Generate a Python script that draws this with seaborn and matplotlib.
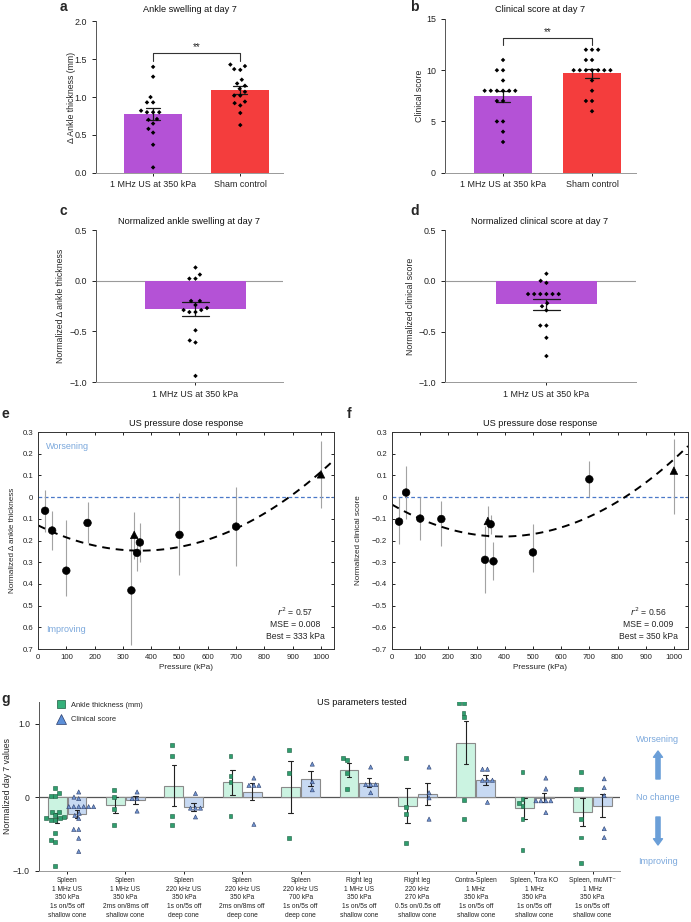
import matplotlib
matplotlib.use("Agg")
import matplotlib.pyplot as plt
from matplotlib.lines import Line2D
import seaborn as sns
import pandas as pd

# ---------------- data ----------------
# panels a-d
groups = ['1 MHz US at 350 kPa', 'Sham control']
ankle_us = [1.40, 1.27, 1.00, 0.93, 0.93, 0.82, 0.80, 0.80, 0.80, 0.71, 0.70, 0.65, 0.58, 0.53, 0.37, 0.07]
ankle_sham = [1.43, 1.41, 1.37, 1.36, 1.23, 1.18, 1.15, 1.11, 1.07, 1.02, 1.02, 0.94, 0.92, 0.89, 0.79, 0.63]
score_us = [11, 10, 10, 9, 8, 8, 8, 8, 8, 8, 7, 7, 5, 5, 4, 3]
score_sham = [12, 12, 12, 11, 11, 10, 10, 10, 10, 10, 10, 10, 9, 8, 7, 7, 6]
norm_ankle_us = [0.13, 0.06, 0.02, 0.02, -0.20, -0.20, -0.24, -0.27, -0.29, -0.29, -0.31, -0.31, -0.49, -0.59, -0.61, -0.94]
norm_score_us = [0.07, 0.0, -0.02, -0.13, -0.13, -0.13, -0.13, -0.13, -0.13, -0.22, -0.25, -0.29, -0.44, -0.44, -0.56, -0.74]

# panels e/f : pressure dose response
pressure = [25, 50, 100, 175, 330, 340, 350, 360, 500, 700, 1000]
marker_kind = ['circle', 'circle', 'circle', 'circle', 'circle', 'triangle',
               'circle', 'circle', 'circle', 'circle', 'triangle']
e_mean = [-0.063, -0.154, -0.339, -0.119, -0.43, -0.174, -0.257, -0.209, -0.174, -0.136, 0.105]
e_top = [0.035, -0.064, -0.105, -0.024, -0.175, -0.069, -0.18, -0.118, 0.02, 0.046, 0.257]
e_bot = [-0.163, -0.246, -0.457, -0.212, -0.68, -0.286, -0.34, -0.30, -0.357, -0.316, -0.052]
f_mean = [-0.113, 0.021, -0.099, -0.101, -0.289, -0.11, -0.125, -0.296, -0.255, 0.082, 0.122]
f_top = [0.0, 0.144, 0.0, -0.017, -0.131, -0.04, -0.082, -0.206, -0.124, 0.165, 0.27]
f_bot = [-0.215, -0.10, -0.197, -0.224, -0.444, -0.185, -0.17, -0.383, -0.345, 0.0, -0.076]
ef_yticks = [0.3, 0.2, 0.1, 0, -0.1, -0.2, -0.3, -0.4, -0.5, -0.6, -0.7]
e_yticklabels = ['0.3', '0.2', '0.1', '0', '0.1', '0.2', '0.3', '0.4', '0.5', '0.6', '0.7']
f_yticklabels = ['0.3', '0.2', '0.1', '0', '\u22120.1', '\u22120.2', '\u22120.3', '\u22120.4',
                 '\u22120.5', '\u22120.6', '\u22120.7']
e_stats = '$r^2$ = 0.57\nMSE = 0.008\nBest = 333 kPa'
f_stats = '$r^2$ = 0.56\nMSE = 0.009\nBest = 350 kPa'

# panel g : US parameters tested
conditions = [
    'Spleen\n1 MHz US\n350 kPa\n1s on/5s off\nshallow cone',
    'Spleen\n1 MHz US\n350 kPa\n2ms on/8ms off\nshallow cone',
    'Spleen\n220 kHz US\n350 kPa\n1s on/5s off\ndeep cone',
    'Spleen\n220 kHz US\n350 kPa\n2ms on/8ms off\ndeep cone',
    'Spleen\n220 kHz US\n700 kPa\n1s on/5s off\ndeep cone',
    'Right leg\n1 MHz US\n350 kPa\n1s on/5s off\nshallow cone',
    'Right leg\n220 kHz\n270 kPa\n0.5s on/0.5s off\nshallow cone',
    'Contra-Spleen\n1 MHz\n350 kPa\n1s on/5s off\nshallow cone',
    'Spleen, Tcra KO\n1 MHz\n350 kPa\n1s on/5s off\nshallow cone',
    'Spleen, muMT\u207b\n1 MHz\n350 kPa\n1s on/5s off\nshallow cone',
]
g_ankle = [
    norm_ankle_us,
    [0.10, 0.0, -0.16, -0.38],
    [0.71, 0.56, -0.26, -0.38],
    [0.56, 0.29, 0.21, -0.26],
    [0.64, 0.33, -0.56],
    [0.53, 0.50, 0.33, 0.11],
    [0.53, -0.14, -0.23, -0.62],
    [1.28, 1.28, 1.15, 1.09, -0.04, -0.30],
    [0.34, -0.02, -0.08, -0.12, -0.30, -0.72],
    [0.34, 0.11, 0.11, -0.30, -0.55, -0.90],
]
g_score = [
    norm_score_us,
    [0.07, -0.02, -0.02, -0.19],
    [0.05, -0.15, -0.15, -0.15, -0.27],
    [0.26, 0.16, 0.16, 0.16, -0.37],
    [0.45, 0.21, 0.10],
    [0.41, 0.17, 0.17, 0.17, 0.06],
    [0.41, 0.06, -0.01, -0.30],
    [0.38, 0.38, 0.23, 0.23, 0.23, -0.07],
    [0.26, 0.11, -0.05, -0.05, -0.05, -0.05, -0.21],
    [0.25, 0.13, 0.02, -0.43, -0.55],
]
measures = ['Ankle thickness (mm)', 'Clinical score']

# ---------------- style ----------------
PURPLE, RED = '#b452d6', '#f43d3d'
MINT, LIGHTBLUE = '#cbf3e1', '#c7d9f2'
GREEN, BLUE = '#2f9e6e', '#7094d0'
TXTBLUE = '#7ba8dc'

sns.set_style('ticks')
plt.rcParams['font.family'] = ['Liberation Sans', 'DejaVu Sans']
plt.rcParams.update({'axes.linewidth': 0.7, 'xtick.major.width': 0.7, 'ytick.major.width': 0.7,
                     'xtick.major.size': 3, 'ytick.major.size': 3})

W, H = 691, 922
fig = plt.figure(figsize=(W / 100, H / 100), dpi=100)


def add_ax(l, t, r, b):
    return fig.add_axes([l / W, 1 - b / H, (r - l) / W, (b - t) / H])


def ftext(x, y, s, **kw):
    fig.text(x / W, 1 - y / H, s, **kw)


def bar_panel(ax, df, colors, width, capsize):
    sns.barplot(data=df, x='group', y='value', hue='group', palette=colors, legend=False,
                errorbar='se', capsize=capsize, width=width, saturation=1, linewidth=0,
                err_kws={'color': '#1a1a1a', 'linewidth': 0.9}, ax=ax)
    sns.swarmplot(data=df, x='group', y='value', color='black', marker='D', size=2.3,
                  linewidth=1.9, edgecolor='none', ax=ax, zorder=3)
    sns.despine(ax=ax)
    ax.spines['left'].set_color('#555555')
    ax.spines['bottom'].set_color('#999999')
    ax.set_xlabel('')
    ax.tick_params(labelsize=6.4, colors='#222222')
    ax.tick_params(axis='x', length=2)


# ---------------- panel a ----------------
ax_a = add_ax(96, 21.5, 283, 172.7)
df_a = pd.DataFrame({'group': [groups[0]] * len(ankle_us) + [groups[1]] * len(ankle_sham),
                     'value': ankle_us + ankle_sham})
bar_panel(ax_a, df_a, [PURPLE, RED], 0.67, 0.16)
ax_a.set_ylim(0, 2.0)
ax_a.set_xlim(-0.655, 1.49)
ax_a.set_yticks([0, 0.5, 1.0, 1.5, 2.0])
ax_a.set_yticklabels(['0.0', '0.5', '1.0', '1.5', '2.0'])
ax_a.set_ylabel('\u0394 Ankle thickness (mm)', fontsize=6.3)
ax_a.yaxis.set_label_coords(-0.107, 0.5)
ax_a.plot([0, 0, 1, 1], [1.48, 1.58, 1.58, 1.48], color='#333333', lw=0.8)
ax_a.text(0.5, 1.60, '**', ha='center', va='bottom', fontsize=7)

# ---------------- panel b ----------------
ax_b = add_ax(445, 19, 636, 172.7)
df_b = pd.DataFrame({'group': [groups[0]] * len(score_us) + [groups[1]] * len(score_sham),
                     'value': score_us + score_sham})
bar_panel(ax_b, df_b, [PURPLE, RED], 0.66, 0.157)
ax_b.set_ylim(0, 15)
ax_b.set_xlim(-0.652, 1.494)
ax_b.set_yticks([0, 5, 10, 15])
ax_b.set_ylabel('Clinical score', fontsize=6.3)
ax_b.yaxis.set_label_coords(-0.110, 0.5)
ax_b.plot([0, 0, 1, 1], [12.45, 13.1, 13.1, 12.45], color='#333333', lw=0.8)
ax_b.text(0.5, 13.2, '**', ha='center', va='bottom', fontsize=7)

# ---------------- panel c ----------------
ax_c = add_ax(96, 230, 283, 382)
df_c = pd.DataFrame({'group': [groups[0]] * len(norm_ankle_us), 'value': norm_ankle_us})
ax_c.axhline(0, color='#9a9a9a', lw=0.8, zorder=0)
bar_panel(ax_c, df_c, [PURPLE], 0.54, 0.14)
ax_c.set_ylim(-1.0, 0.5)
ax_c.set_xlim(-0.532, 0.468)
ax_c.set_yticks([-1.0, -0.5, 0.0, 0.5])
ax_c.set_ylabel('Normalized \u0394 ankle thickness', fontsize=6.3)
ax_c.yaxis.set_label_coords(-0.166, 0.5)

# ---------------- panel d ----------------
ax_d = add_ax(445, 230, 636, 382.5)
df_d = pd.DataFrame({'group': [groups[0]] * len(norm_score_us), 'value': norm_score_us})
ax_d.axhline(0, color='#9a9a9a', lw=0.8, zorder=0)
bar_panel(ax_d, df_d, [PURPLE], 0.53, 0.14)
ax_d.set_ylim(-1.0, 0.5)
ax_d.set_xlim(-0.531, 0.469)
ax_d.set_yticks([-1.0, -0.5, 0.0, 0.5])
ax_d.set_ylabel('Normalized clinical score', fontsize=6.3)
ax_d.yaxis.set_label_coords(-0.157, 0.5)


# ---------------- panels e / f ----------------
def dose_panel(ax, mean, top, bot, xmax, ylab, ylab_x, ticklabels, stats, stats_x):
    df = pd.DataFrame({'pressure': pressure, 'value': mean, 'top': top, 'bot': bot,
                       'kind': marker_kind})
    ax.set_xlim(0, xmax)
    ax.set_ylim(-0.7, 0.3)
    ax.axhline(0, color='#4a78c8', lw=0.9, ls=(0, (3, 2)), zorder=1)
    ax.errorbar(df['pressure'], df['value'],
                yerr=[df['value'] - df['bot'], df['top'] - df['value']],
                fmt='none', ecolor='#a3a3a3', elinewidth=0.8, zorder=2)
    sns.regplot(data=df, x='pressure', y='value', order=2, scatter=False, ci=None,
                truncate=False, line_kws={'color': 'black', 'lw': 1.4, 'ls': (0, (4, 3))}, ax=ax)
    sns.scatterplot(data=df, x='pressure', y='value', style='kind',
                    markers={'circle': 'o', 'triangle': '^'}, color='black', s=30,
                    edgecolor='black', legend=False, ax=ax, zorder=4)
    ax.set_xlim(0, xmax)
    ax.set_ylim(-0.7, 0.3)
    ax.set_xticks(range(0, 1001, 100))
    ax.set_yticks(ef_yticks)
    ax.set_yticklabels(ticklabels)
    ax.tick_params(direction='in', top=True, right=True, labelsize=5.6, length=2.5,
                   colors='#222222')
    for s in ax.spines.values():
        s.set_color('#333333')
    ax.set_xlabel('Pressure (kPa)', fontsize=5.9, labelpad=2)
    ax.set_ylabel(ylab, fontsize=5.9)
    ax.yaxis.set_label_coords(ylab_x, 0.5)
    ax.text(stats_x, 0.12, stats, transform=ax.transAxes, ha='center', va='center',
            multialignment='center', fontsize=6.2, linespacing=1.35)


ax_e = add_ax(38, 432, 334, 649)
dose_panel(ax_e, e_mean, e_top, e_bot, 1046, 'Normalized \u0394 ankle thickness', -0.074,
           e_yticklabels, e_stats, 0.868)
ax_e.text(0.027, 0.935, 'Worsening', transform=ax_e.transAxes, color=TXTBLUE, fontsize=6.5,
          va='center')
ax_e.text(0.027, 0.088, 'Improving', transform=ax_e.transAxes, color=TXTBLUE, fontsize=6.5,
          va='center')

ax_f = add_ax(392, 432, 688, 649)
dose_panel(ax_f, f_mean, f_top, f_bot, 1050, 'Normalized clinical score', -0.101,
           f_yticklabels, f_stats, 0.865)

# ---------------- panel g ----------------
ax_g = add_ax(39, 701.7, 620, 870.5)
rows = []
for cond, av, sv in zip(conditions, g_ankle, g_score):
    rows += [(cond, measures[0], v) for v in av]
    rows += [(cond, measures[1], v) for v in sv]
df_g = pd.DataFrame(rows, columns=['cond', 'measure', 'value'])

ax_g.axhline(0, color='#555555', lw=0.9, zorder=0)
sns.barplot(data=df_g, x='cond', y='value', hue='measure', order=conditions,
            hue_order=measures, palette=[MINT, LIGHTBLUE], errorbar='se', capsize=0.16,
            width=0.68, gap=0.05, saturation=1, edgecolor='#8a8a8a', linewidth=0.8,
            err_kws={'color': '#222222', 'linewidth': 0.8}, legend=False, ax=ax_g)
sns.swarmplot(data=df_g[df_g['measure'] == measures[0]], x='cond', y='value', hue='measure',
              order=conditions, hue_order=measures, palette=[GREEN, BLUE], dodge=True,
              marker='s', size=2.8, linewidth=0.4, edgecolor='#1d5c40', legend=False,
              ax=ax_g, zorder=4)
sns.swarmplot(data=df_g[df_g['measure'] == measures[1]], x='cond', y='value', hue='measure',
              order=conditions, hue_order=measures, palette=[GREEN, BLUE], dodge=True,
              marker='^', size=3.0, linewidth=0.4, edgecolor='#2c3e6b', legend=False,
              ax=ax_g, zorder=4)
sns.despine(ax=ax_g)
ax_g.spines['left'].set_color('#555555')
ax_g.spines['bottom'].set_color('#999999')
ax_g.set_ylim(-1.0, 1.3)
ax_g.set_xlim(-0.48, 9.47)
ax_g.set_yticks([-1.0, 0, 1.0])
ax_g.set_yticklabels(['\u22121.0', '0', '1.0'])
ax_g.set_xticks(range(len(conditions)))
ax_g.set_xticklabels(conditions, fontsize=4.8, linespacing=1.35)
ax_g.tick_params(axis='y', labelsize=6.2, colors='#222222')
ax_g.tick_params(axis='x', length=2.5, pad=2, colors='#222222')
ax_g.set_xlabel('')
ax_g.set_ylabel('Normalized day 7 values', fontsize=6.3)
ax_g.yaxis.set_label_coords(-0.046, 0.5)
handles = [Line2D([], [], marker='s', ls='', markersize=6, markerfacecolor='#35b07a',
                  markeredgecolor='#1d5c40', markeredgewidth=0.5),
           Line2D([], [], marker='^', ls='', markersize=6.5, markerfacecolor='#5c8fd8',
                  markeredgecolor='#2c3e6b', markeredgewidth=0.5)]
ax_g.legend(handles, measures, loc='upper left', bbox_to_anchor=(0.02, 1.02), frameon=False,
            fontsize=5.4, handletextpad=0.3, labelspacing=1.0, borderaxespad=0)

# right-hand annotations of g
ftext(658, 740, 'Worsening', color=TXTBLUE, fontsize=6.5, ha='center', va='center')
ftext(658, 798, 'No change', color=TXTBLUE, fontsize=6.5, ha='center', va='center')
ftext(658, 861, 'Improving', color=TXTBLUE, fontsize=6.5, ha='center', va='center')
arrow_kw = dict(arrowstyle='simple,head_width=0.65,head_length=0.45,tail_width=0.3',
                color='#6b9fd8', mutation_scale=10, shrinkA=0, shrinkB=0)
ax_g.annotate('', xy=(658, H - 751), xytext=(658, H - 779), xycoords='figure pixels',
              textcoords='figure pixels', arrowprops=arrow_kw, annotation_clip=False)
ax_g.annotate('', xy=(658, H - 845), xytext=(658, H - 817), xycoords='figure pixels',
              textcoords='figure pixels', arrowprops=arrow_kw, annotation_clip=False)

# ---------------- titles and panel letters ----------------
title_kw = dict(fontsize=6.6, ha='center', va='center', color='#111111')
ftext(190, 9, 'Ankle swelling at day 7', **title_kw)
ftext(540, 9, 'Clinical score at day 7', **title_kw)
ftext(189, 221, 'Normalized ankle swelling at day 7', **title_kw)
ftext(540, 221, 'Normalized clinical score at day 7', **title_kw)
ftext(186, 423, 'US pressure dose response', **title_kw)
ftext(540, 423, 'US pressure dose response', **title_kw)
ftext(362, 702, 'US parameters tested', **title_kw)

letter_kw = dict(fontsize=10, fontweight='bold', ha='left', va='center')
ftext(60, 7, 'a', **letter_kw)
ftext(410, 7, 'b', **letter_kw)
ftext(60, 211, 'c', **letter_kw)
ftext(410, 211, 'd', **letter_kw)
ftext(2, 414, 'e', **letter_kw)
ftext(347, 414, 'f', **letter_kw)
ftext(1, 699, 'g', **letter_kw)

fig.savefig('out.png', dpi=100)
